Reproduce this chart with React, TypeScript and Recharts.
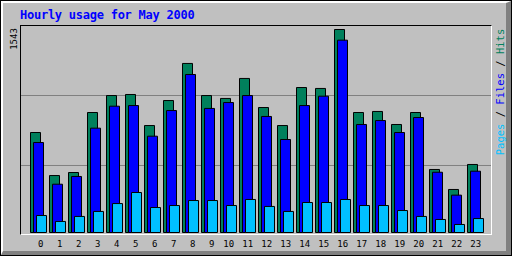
import React from 'react';
import { BarChart, Bar, XAxis, YAxis, CartesianGrid } from 'recharts';

const hours = ['0', '1', '2', '3', '4', '5', '6', '7', '8', '9', '10', '11', '12', '13', '14', '15', '16', '17', '18', '19', '20', '21', '22', '23'];
const hits = [760, 433, 456, 912, 1041, 1049, 813, 1003, 1285, 1041, 1019, 1171, 950, 813, 1102, 1095, 1543, 912, 920, 821, 912, 479, 327, 517];
const files = [684, 367, 426, 793, 960, 965, 732, 927, 1201, 943, 988, 1041, 882, 707, 965, 1036, 1462, 821, 851, 760, 874, 458, 284, 466];
const pages = [129, 84, 122, 160, 220, 304, 190, 205, 243, 243, 205, 251, 198, 160, 228, 228, 251, 205, 205, 167, 122, 99, 61, 106];
const maxValue = 1543;
const gridValues = [509.3, 1041.3];

const HIT_COLOR = '#00805c';
const FILE_COLOR = '#0000ff';
const PAGE_COLOR = '#00c0ff';
const MONO = '"DejaVu Sans Mono", monospace';

const chartData = hours.map((hour, i) => ({
  hour,
  hits: hits[i],
  files: files[i],
  pages: pages[i],
}));

// single digit labels sit a little right of the group centre
function HourTick(props: any) {
  const { x, y, payload } = props;
  const label = String(payload.value);
  const dx = label.length === 1 ? 2.8 : 0.7;
  return (
    <text x={x + dx} y={y + 13} textAnchor="middle" fontFamily={MONO} fontSize={9} fill="#000">
      {label}
    </text>
  );
}

export default function App() {
  return (
    <div
      style={{
        position: 'absolute',
        left: 0,
        top: 0,
        width: 512,
        height: 256,
        boxSizing: 'border-box',
        border: '1px solid #000',
        background: '#c0c0c0',
        overflow: 'hidden',
      }}
    >
      {/* raised bevel */}
      <div
        style={{
          position: 'absolute',
          left: 0,
          top: 0,
          width: 510,
          height: 254,
          boxSizing: 'border-box',
          borderTop: '2px solid #fff',
          borderLeft: '2px solid #fff',
          borderRight: '5px solid #808080',
          borderBottom: '4px solid #808080',
        }}
      />
      {/* plot frame */}
      <div
        style={{
          position: 'absolute',
          left: 19,
          top: 24,
          width: 472,
          height: 210,
          boxSizing: 'border-box',
          borderTop: '1px solid #000',
          borderLeft: '1px solid #000',
          borderRight: '1px solid #fff',
          borderBottom: '1px solid #fff',
        }}
      />
      <div
        style={{
          position: 'absolute',
          left: 19,
          top: 8,
          fontFamily: MONO,
          fontWeight: 'bold',
          fontSize: 12,
          lineHeight: '12px',
          letterSpacing: -0.25,
          color: '#0000ff',
          whiteSpace: 'nowrap',
        }}
      >
        Hourly usage for May 2000
      </div>
      <div
        style={{
          position: 'absolute',
          left: 12.7,
          top: 38.2,
          transform: 'translate(-50%, -50%) rotate(-90deg)',
          fontFamily: MONO,
          fontSize: 9,
          lineHeight: '9px',
          color: '#000',
          whiteSpace: 'nowrap',
        }}
      >
        {String(maxValue)}
      </div>
      <div
        style={{
          position: 'absolute',
          left: 498.5,
          top: 91,
          transform: 'translate(-50%, -50%) rotate(-90deg)',
          fontFamily: MONO,
          fontSize: 10.5,
          lineHeight: '10px',
          whiteSpace: 'nowrap',
        }}
      >
        <span style={{ color: PAGE_COLOR }}>Pages</span>
        <span style={{ color: '#000' }}> / </span>
        <span style={{ color: FILE_COLOR }}>Files</span>
        <span style={{ color: '#000' }}> / </span>
        <span style={{ color: HIT_COLOR }}>Hits</span>
      </div>
      <div style={{ position: 'absolute', left: -1, top: -1 }}>
        <BarChart
          width={512}
          height={256}
          data={chartData}
          margin={{ top: 26, right: 21, bottom: 0, left: 21 }}
          barSize={10}
          barGap={-7}
        >
          <CartesianGrid vertical={false} horizontalValues={gridValues} stroke="#808080" />
          <XAxis
            dataKey="hour"
            height={22}
            padding={{ left: 7.5, right: 6.5 }}
            axisLine={false}
            tickLine={false}
            tickSize={0}
            tickMargin={0}
            interval={0}
            tick={<HourTick />}
          />
          <YAxis hide domain={[0, maxValue]} padding={{ top: 3.5, bottom: 1.5 }} />
          <Bar dataKey="hits" fill={HIT_COLOR} stroke="#000" strokeWidth={1} isAnimationActive={false} />
          <Bar dataKey="files" fill={FILE_COLOR} stroke="#000" strokeWidth={1} isAnimationActive={false} />
          <Bar dataKey="pages" fill={PAGE_COLOR} stroke="#000" strokeWidth={1} isAnimationActive={false} />
        </BarChart>
      </div>
    </div>
  );
}
